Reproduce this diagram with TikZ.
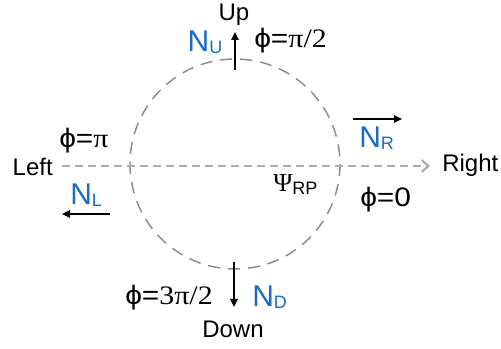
\documentclass[tikz,border=0pt]{standalone}
\usepackage{fontspec}
\usepackage{graphicx}
\setmainfont{Liberation Sans}
\newfontfamily\grserif{Liberation Serif}
\usetikzlibrary{arrows.meta}

\definecolor{nblue}{RGB}{24,108,196}
\definecolor{ringgray}{RGB}{140,140,140}
\definecolor{axisgray}{RGB}{172,172,172}

% blue label N with its index
\newcommand{\nlab}[1]{\textcolor{nblue}{\fontsize{22.5}{24}\selectfont N\fontsize{13.5}{14}\selectfont\raisebox{-1pt}{#1}}}
% serif part of the angles
\newcommand{\ser}[1]{{\grserif #1}}
% angle labels, a bit wider
\newcommand{\ang}[1]{\scalebox{1.12}[1]{\fontsize{20}{22}\selectfont ϕ=#1}}

\begin{document}
\begin{tikzpicture}[x=0.75pt,y=-0.75pt,
    lbl/.style={inner sep=0pt, font=\fontsize{18}{20}\selectfont},
    vec/.style={line width=1.2pt, -{Triangle[length=6pt,width=5.5pt]}},
    ring/.style={ringgray, line width=1.1pt, dash pattern=on 9pt off 6pt},
    axis/.style={axisgray, line width=2.2pt, dash pattern=on 6pt off 3.75pt,
        -{Straight Barb[length=5pt,width=9pt,line width=1.6pt]}}]
    \useasboundingbox (0,0) rectangle (501,349);

    % Cerchio tratteggiato
    \coordinate (O) at (235,164);
    \draw[ring] (O) circle (105);

    % Asse orizzontale Left -> Right
    \node[lbl, anchor=base east] (left) at (53,176) {Left};
    \node[lbl, anchor=base west] (right) at (442,172) {Right};
    \coordinate (ax0) at (62,166);
    \coordinate (ax1) at (430,166);
    \draw[axis] (ax0) -- (ax1);

    % Direzioni e frecce
    \node[lbl, anchor=base] (up) at (234,21) {Up};
    \node[lbl, anchor=base] (down) at (233,338) {Down};
    \coordinate (u0) at (235,70);  \coordinate (u1) at (235,32);
    \coordinate (d0) at (234,262); \coordinate (d1) at (234,307);
    \coordinate (r0) at (353,119); \coordinate (r1) at (402,119);
    \coordinate (l0) at (110,214); \coordinate (l1) at (62,214);
    \draw[vec] (u0) -- (u1);
    \draw[vec] (d0) -- (d1);
    \draw[vec] (r0) -- (r1);
    \draw[vec] (l0) -- (l1);

    % Etichette N
    \node[inner sep=0pt, anchor=base] (NU) at (205,52) {\nlab{U}};
    \node[inner sep=0pt, anchor=base west] (NR) at (359,148) {\nlab{R}};
    \node[inner sep=0pt, anchor=base west] (NL) at (70,205) {\nlab{L}};
    \node[inner sep=0pt, anchor=base west] (ND) at (252,307) {\nlab{D}};

    % Angoli
    \node[lbl, anchor=base west] (phi90) at (254,48) {\ang{\ser{π/2}}};
    \node[lbl, anchor=base west] (phi180) at (59,148) {\ang{\ser{π}}};
    \node[lbl, anchor=base west] (phi0) at (360,207) {\ang{0}};
    \node[lbl, anchor=base west] (phi270) at (125,305) {\ang{\ser{3π/2}}};

    % Piano di reazione
    \node[lbl, anchor=base west] (psi) at (273,192) {{\grserif\fontsize{19.5}{21}\selectfont Ψ}{\fontsize{13.5}{15}\selectfont\raisebox{-2.25pt}{RP}}};
\end{tikzpicture}
\end{document}
